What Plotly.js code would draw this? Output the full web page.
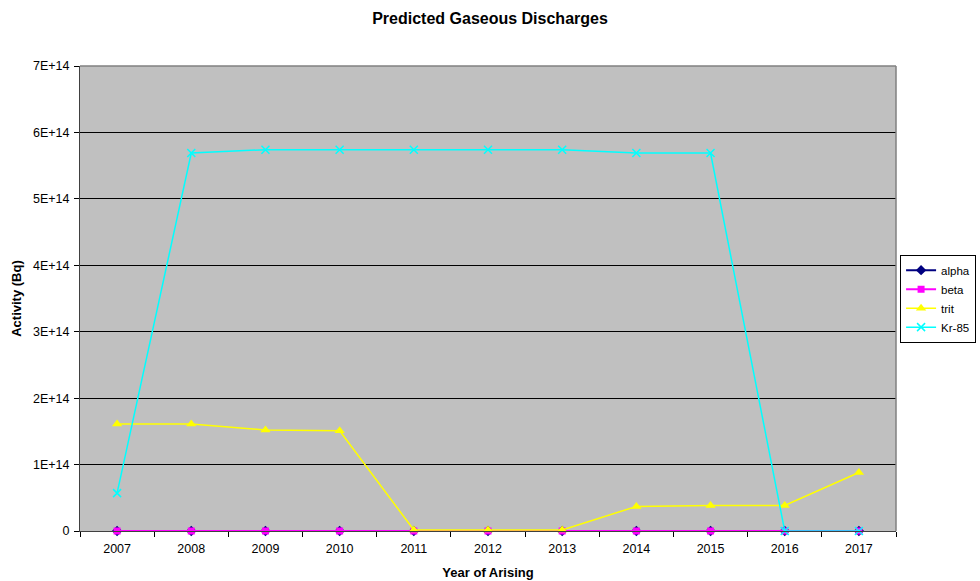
<!DOCTYPE html>
<html>
<head>
<meta charset="utf-8">
<script src="https://cdn.plot.ly/plotly-3.0.1.min.js"></script>
<style>
  html, body { margin: 0; padding: 0; background: #ffffff; }
  #chart { width: 980px; height: 581px; }
</style>
</head>
<body>
<div id="chart"></div>
<script>
// Years of arising (category axis)
const years = ['2007', '2008', '2009', '2010', '2011', '2012', '2013', '2014', '2015', '2016', '2017'];

// Predicted gaseous discharges, activity in Bq
const alpha = [0, 0, 0, 0, 0, 0, 0, 0, 0, 0, 0];
const beta  = [0, 0, 0, 0, 0, 0, 0, 0, 0, 0, 0];
const trit  = [1.61e14, 1.61e14, 1.52e14, 1.51e14, 1.5e12, 1.5e12, 1.5e12, 3.7e13, 3.85e13, 3.85e13, 8.8e13];
const kr85  = [5.7e13, 5.69e14, 5.74e14, 5.74e14, 5.74e14, 5.74e14, 5.74e14, 5.69e14, 5.69e14, 0, 0];

// Y axis tick values and labels
const yTickVals = [0, 1e14, 2e14, 3e14, 4e14, 5e14, 6e14, 7e14];
const yTickText = ['0', '1E+14', '2E+14', '3E+14', '4E+14', '5E+14', '6E+14', '7E+14'];

const font = 'Arial, "Liberation Sans", sans-serif';

function series(name, values, color, symbol, size, width) {
  return {
    type: 'scatter',
    mode: 'lines+markers',
    name: name,
    x: years,
    y: values,
    line: { color: color, width: width },
    marker: { color: color, symbol: symbol, size: size, line: { color: color, width: symbol === 'x-thin' ? 1.5 : 0 } },
    cliponaxis: false
  };
}

const data = [
  series('alpha', alpha, '#000080', 'diamond', 8, 2),
  series('beta', beta, '#FF00FF', 'square', 7, 2),
  series('trit', trit, '#FFFF00', 'triangle-up', 9, 1.5),
  series('Kr-85', kr85, '#00FFFF', 'x-thin', 8, 1.5)
];

const layout = {
  width: 980,
  height: 581,
  paper_bgcolor: '#ffffff',
  plot_bgcolor: '#C0C0C0',
  margin: { l: 80, r: 84, t: 66, b: 50 },
  font: { family: font, size: 12.5, color: '#000000' },
  title: {
    text: '<b>Predicted Gaseous Discharges</b>',
    font: { family: font, size: 16, color: '#000000' },
    x: 0.5, xref: 'container', xanchor: 'center',
    y: 0.969, yref: 'container', yanchor: 'middle'
  },
  xaxis: {
    type: 'category',
    tickson: 'boundaries',
    ticks: 'outside',
    ticklen: 5,
    tickcolor: '#000000',
    ticklabelstandoff: 6,
    showgrid: false,
    showline: true,
    linecolor: '#404040',
    linewidth: 1,
    mirror: false,
    tickfont: { family: font, size: 12.5 },
    title: { text: '<b>Year of Arising</b>', font: { family: font, size: 13 }, standoff: 12 },
    range: [-0.5, 10.5],
    fixedrange: true
  },
  yaxis: {
    range: [0, 7e14],
    tickvals: yTickVals,
    ticktext: yTickText,
    ticks: 'outside',
    ticklen: 5,
    tickcolor: '#000000',
    ticklabelstandoff: 2,
    showgrid: true,
    gridcolor: '#000000',
    gridwidth: 1,
    zeroline: false,
    showline: true,
    linecolor: '#404040',
    linewidth: 1,
    tickfont: { family: font, size: 12.5 },
    title: { text: '<b>Activity (Bq)</b>', font: { family: font, size: 13 }, standoff: 8 },
    fixedrange: true
  },
  shapes: [
    { type: 'line', xref: 'paper', yref: 'paper', x0: 0, x1: 1, y0: 1, y1: 1, line: { color: '#808080', width: 1.5 } },
    { type: 'line', xref: 'paper', yref: 'paper', x0: 1, x1: 1, y0: 0, y1: 1, line: { color: '#808080', width: 1.5 } }
  ],
  showlegend: true,
  legend: {
    x: 0.996, xref: 'container', xanchor: 'right',
    y: 0.486, yref: 'container', yanchor: 'middle',
    bgcolor: '#ffffff',
    bordercolor: '#000000',
    borderwidth: 1,
    font: { family: font, size: 11.5 },
    tracegroupgap: 0,
    itemwidth: 30
  }
};

Plotly.newPlot('chart', data, layout, { displayModeBar: false, staticPlot: true });
</script>
</body>
</html>
